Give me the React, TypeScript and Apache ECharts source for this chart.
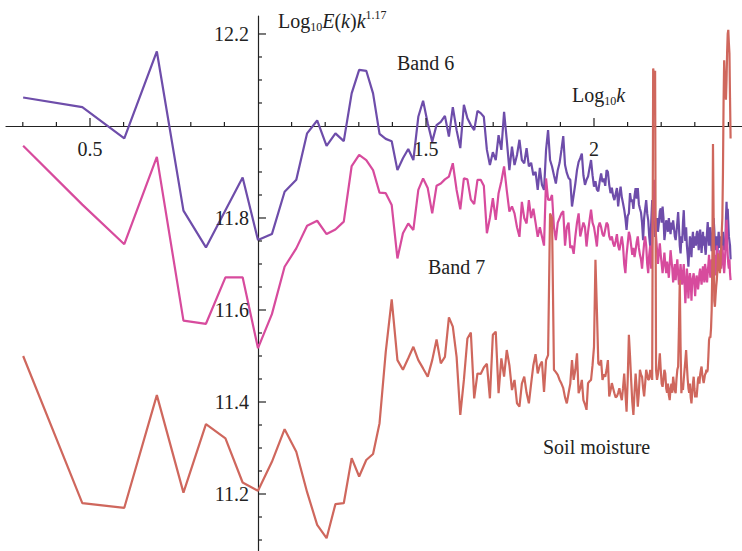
import React, { useEffect, useRef } from "react";
import * as echarts from "echarts";

// Wavenumber index k starts at 2; x = log10(k)
const K_START = 2;

// Log10 E(k) k^1.17 for k = 2..255
const band6: number[] = [
  12.062, 12.041, 11.973, 12.162, 11.816, 11.736, 11.817, 11.888, 11.752, 11.765,
  11.857, 11.883, 11.984, 12.012, 11.957, 11.984, 11.967, 12.071, 12.122, 12.120,
  12.071, 11.983, 11.972, 11.967, 11.904, 11.930, 11.950, 11.926, 12.020, 12.055,
  12.006, 11.966, 12.002, 12.009, 12.022, 11.977, 12.041, 11.991, 11.952, 12.046,
  12.017, 12.002, 11.991, 12.033, 12.028, 12.020, 11.948, 11.915, 11.943, 11.926,
  11.980, 11.948, 12.031, 11.970, 11.904, 11.955, 11.915, 11.937, 11.970, 11.926,
  11.919, 11.952, 11.912, 11.920, 11.893, 11.900, 11.861, 11.909, 11.872, 11.861,
  11.948, 11.991, 11.926, 11.912, 11.893, 11.875, 11.904, 11.920, 11.948, 11.978,
  11.915, 11.898, 11.887, 11.883, 11.825, 11.850, 11.875, 11.904, 11.922, 11.930,
  11.940, 11.893, 11.872, 11.883, 11.890, 11.909, 11.926, 11.893, 11.868, 11.880,
  11.862, 11.858, 11.880, 11.897, 11.878, 11.886, 11.870, 11.904, 11.900, 11.872,
  11.854, 11.866, 11.848, 11.839, 11.852, 11.865, 11.825, 11.850, 11.868, 11.845,
  11.832, 11.818, 11.800, 11.774, 11.805, 11.810, 11.854, 11.835, 11.840, 11.820,
  11.848, 11.865, 11.842, 11.865, 11.830, 11.820, 11.812, 11.790, 11.752, 11.800,
  11.820, 11.839, 11.810, 11.795, 11.760, 11.738, 11.790, 11.839, 11.800, 11.790,
  11.759, 11.780, 11.800, 11.770, 11.790, 11.815, 11.821, 11.790, 11.825, 11.800,
  11.752, 11.770, 11.795, 11.789, 11.770, 11.800, 11.780, 11.765, 11.790, 11.775,
  11.795, 11.778, 11.760, 11.752, 11.770, 11.790, 11.813, 11.780, 11.740, 11.723,
  11.760, 11.746, 11.790, 11.817, 11.770, 11.750, 11.780, 11.740, 11.720, 11.694,
  11.730, 11.760, 11.740, 11.715, 11.752, 11.770, 11.735, 11.760, 11.752, 11.740,
  11.765, 11.772, 11.750, 11.730, 11.760, 11.775, 11.745, 11.724, 11.750, 11.770,
  11.740, 11.760, 11.735, 11.720, 11.745, 11.770, 11.791, 11.760, 11.740, 11.765,
  11.780, 11.750, 11.728, 11.752, 11.770, 11.800, 11.775, 11.745, 11.730, 11.760,
  11.745, 11.720, 11.750, 11.770, 11.745, 11.735, 11.760, 11.740, 11.720, 11.750,
  11.770, 11.740, 11.730, 11.755, 11.735, 11.800, 11.835, 11.800, 11.820, 11.790,
  11.760, 11.760, 11.740, 11.710,
];

const band7: number[] = [
  11.957, 11.829, 11.743, 11.933, 11.577, 11.570, 11.671, 11.671, 11.517, 11.591,
  11.694, 11.734, 11.783, 11.794, 11.765, 11.775, 11.792, 11.913, 11.937, 11.926,
  11.904, 11.855, 11.854, 11.828, 11.712, 11.767, 11.788, 11.774, 11.861, 11.886,
  11.865, 11.810, 11.870, 11.875, 11.884, 11.890, 11.919, 11.861, 11.819, 11.886,
  11.884, 11.840, 11.830, 11.883, 11.883, 11.870, 11.767, 11.800, 11.843, 11.796,
  11.854, 11.880, 11.912, 11.860, 11.814, 11.825, 11.810, 11.780, 11.759, 11.835,
  11.800, 11.788, 11.839, 11.800, 11.820, 11.790, 11.759, 11.780, 11.760, 11.740,
  11.886, 11.840, 11.839, 11.850, 11.780, 11.752, 11.790, 11.800, 11.810, 11.815,
  11.740, 11.780, 11.790, 11.735, 11.740, 11.722, 11.760, 11.790, 11.810, 11.760,
  11.775, 11.790, 11.780, 11.738, 11.770, 11.795, 11.818, 11.790, 11.780, 11.760,
  11.738, 11.780, 11.790, 11.780, 11.765, 11.760, 11.775, 11.790, 11.785, 11.760,
  11.752, 11.760, 11.745, 11.738, 11.750, 11.765, 11.740, 11.730, 11.745, 11.760,
  11.740, 11.700, 11.680, 11.720, 11.745, 11.770, 11.760, 11.740, 11.720, 11.735,
  11.715, 11.730, 11.748, 11.760, 11.735, 11.720, 11.710, 11.690, 11.720, 11.745,
  11.760, 11.740, 11.700, 11.680, 11.720, 11.740, 11.690, 11.750, 11.840, 11.883,
  11.800, 11.760, 11.730, 11.700, 11.725, 11.745, 11.720, 11.700, 11.680, 11.700,
  11.725, 11.700, 11.680, 11.705, 11.690, 11.670, 11.700, 11.730, 11.710, 11.690,
  11.660, 11.680, 11.700, 11.665, 11.690, 11.710, 11.680, 11.655, 11.675, 11.700,
  11.672, 11.655, 11.680, 11.700, 11.660, 11.615, 11.650, 11.690, 11.665, 11.625,
  11.660, 11.680, 11.665, 11.620, 11.660, 11.670, 11.680, 11.655, 11.630, 11.660,
  11.675, 11.665, 11.645, 11.660, 11.680, 11.690, 11.670, 11.655, 11.675, 11.695,
  11.680, 11.660, 11.700, 11.690, 11.670, 11.660, 11.680, 11.700, 11.720, 11.690,
  11.670, 11.695, 11.710, 11.680, 11.660, 11.690, 11.720, 11.700, 11.675, 11.700,
  11.740, 11.710, 11.690, 11.720, 11.700, 11.730, 11.715, 11.690, 11.710, 11.740,
  11.720, 11.700, 11.680, 11.700, 11.730, 11.770, 11.796, 11.760, 11.720, 11.700,
  11.690, 11.710, 11.680, 11.665,
];

const soilMoisture: number[] = [
  11.500, 11.180, 11.170, 11.415, 11.203, 11.352, 11.321, 11.225, 11.207, 11.270,
  11.341, 11.292, 11.204, 11.133, 11.104, 11.178, 11.180, 11.278, 11.238, 11.274,
  11.287, 11.354, 11.509, 11.623, 11.491, 11.470, 11.495, 11.520, 11.491, 11.473,
  11.455, 11.491, 11.536, 11.484, 11.498, 11.584, 11.564, 11.498, 11.372, 11.448,
  11.538, 11.551, 11.408, 11.462, 11.461, 11.475, 11.483, 11.408, 11.546, 11.553,
  11.419, 11.495, 11.455, 11.513, 11.480, 11.426, 11.448, 11.397, 11.390, 11.440,
  11.455, 11.420, 11.397, 11.440, 11.480, 11.504, 11.462, 11.480, 11.488, 11.422,
  11.491, 11.502, 11.810, 11.800, 11.470, 11.465, 11.459, 11.448, 11.440, 11.430,
  11.410, 11.397, 11.419, 11.440, 11.491, 11.448, 11.470, 11.506, 11.419, 11.430,
  11.448, 11.404, 11.395, 11.383, 11.441, 11.445, 11.448, 11.480, 11.520, 11.709,
  11.600, 11.484, 11.480, 11.491, 11.448, 11.460, 11.455, 11.470, 11.491, 11.412,
  11.425, 11.441, 11.430, 11.419, 11.410, 11.412, 11.420, 11.430, 11.415, 11.404,
  11.430, 11.462, 11.420, 11.379, 11.450, 11.546, 11.500, 11.448, 11.400, 11.372,
  11.420, 11.462, 11.430, 11.390, 11.420, 11.470, 11.460, 11.455, 11.430, 11.412,
  11.440, 11.470, 11.460, 11.448, 11.450, 11.470, 11.460, 11.448, 12.125, 12.110,
  12.120, 11.470, 11.448, 11.460, 11.480, 11.506, 11.470, 11.440, 11.433, 11.450,
  11.470, 11.462, 11.430, 11.420, 11.440, 11.415, 11.404, 11.430, 11.440, 11.420,
  11.455, 11.440, 11.425, 11.419, 11.450, 11.470, 11.477, 11.560, 11.665, 11.520,
  11.419, 11.440, 11.426, 11.450, 11.470, 11.490, 11.513, 11.480, 11.450, 11.430,
  11.420, 11.440, 11.410, 11.397, 11.420, 11.440, 11.455, 11.430, 11.410, 11.420,
  11.410, 11.430, 11.450, 11.455, 11.440, 11.460, 11.470, 11.477, 11.460, 11.450,
  11.441, 11.450, 11.460, 11.462, 11.470, 11.465, 11.470, 11.500, 11.535, 11.542,
  11.540, 11.560, 11.600, 11.700, 11.961, 11.800, 11.620, 11.607, 11.630, 11.650,
  11.665, 11.690, 11.723, 11.700, 11.690, 11.680, 11.700, 11.730, 11.770, 11.800,
  11.900, 12.050, 12.143, 12.100, 12.080, 12.057, 12.100, 12.160, 12.200, 12.209,
  12.180, 12.158, 12.060, 11.973,
];

// Axes cross at (1, 12)
const X_ORIGIN = 1;
const Y_ORIGIN = 12;
const X_MIN = 0.25;
const X_MAX = 2.44;
const Y_MIN = 11.0761;
const Y_MAX = 12.2391;

const xMajorTicks = [0.5, 1.5, 2];
const xMajorLabels = ["0.5", "1.5", "2"];
const xMinorTicks = [
  0.3, 0.4, 0.6, 0.7, 0.8, 0.9, 1.1, 1.2, 1.3, 1.4, 1.6, 1.7, 1.8, 1.9, 2.1, 2.2, 2.3,
  2.4,
];
const yMajorTicks = [11.2, 11.4, 11.6, 11.8, 12.2];
const yMajorLabels = ["11.2", "11.4", "11.6", "11.8", "12.2"];
const yMinorTicks = [
  11.1, 11.15, 11.25, 11.3, 11.35, 11.45, 11.5, 11.55, 11.65, 11.7, 11.75, 11.85, 11.9,
  11.95, 12.05, 12.1, 12.15,
];

const COLORS = { band6: "#6E4DAA", band7: "#D74B9D", soil: "#CF675D" };
const FONT = "'Liberation Serif', 'DejaVu Serif', serif";
const INK = "#222222";
const MINOR_LEN = 4;
const MAJOR_LEN = 8;

function toPoints(vals: number[]): number[][] {
  return vals.map((v, i) => [Math.log10(K_START + i) - X_ORIGIN, v - Y_ORIGIN]);
}

export default function App() {
  const ref = useRef<HTMLDivElement>(null);

  useEffect(() => {
    if (!ref.current) return;
    const chart = echarts.init(ref.current, null, { renderer: "svg" });

    const axisLineStyle = { color: INK, width: 1.2 };
    const tickStyle = { stroke: INK, lineWidth: 1.2 };

    // x ticks + labels drawn through the axes' scales, on the y = 12 line
    const xTicks = {
      type: "custom",
      silent: true,
      clip: false,
      z: 10,
      data: [
        ...xMinorTicks.map((t) => [t - X_ORIGIN, 0, -1]),
        ...xMajorTicks.map((t, i) => [t - X_ORIGIN, 0, i]),
      ],
      renderItem: (_p: any, api: any) => {
        const c = api.coord([api.value(0), 0]);
        const li = api.value(2);
        const major = li >= 0;
        const len = major ? MAJOR_LEN : MINOR_LEN;
        const children: any[] = [
          {
            type: "line",
            shape: { x1: c[0], y1: c[1], x2: c[0], y2: c[1] - len },
            style: tickStyle,
          },
        ];
        if (major) {
          children.push({
            type: "text",
            x: c[0],
            y: c[1] + 13,
            style: {
              text: xMajorLabels[li],
              fill: INK,
              font: `20px ${FONT}`,
              align: "center",
              verticalAlign: "top",
              textAlign: "center",
              textVerticalAlign: "top",
            },
          });
        }
        return { type: "group", children };
      },
    };

    // y ticks + labels on the x = 1 line
    const yTicks = {
      type: "custom",
      silent: true,
      clip: false,
      z: 10,
      data: [
        ...yMinorTicks.map((t) => [0, t - Y_ORIGIN, -1]),
        ...yMajorTicks.map((t, i) => [0, t - Y_ORIGIN, i]),
      ],
      renderItem: (_p: any, api: any) => {
        const c = api.coord([0, api.value(1)]);
        const li = api.value(2);
        const major = li >= 0;
        const len = major ? MAJOR_LEN : MINOR_LEN;
        const children: any[] = [
          {
            type: "line",
            shape: { x1: c[0], y1: c[1], x2: c[0] + len, y2: c[1] },
            style: tickStyle,
          },
        ];
        if (major) {
          children.push({
            type: "text",
            x: c[0] - 9,
            y: c[1],
            style: {
              text: yMajorLabels[li],
              fill: INK,
              font: `20px ${FONT}`,
              align: "right",
              verticalAlign: "middle",
              textAlign: "right",
              textVerticalAlign: "middle",
            },
          });
        }
        return { type: "group", children };
      },
    };

    const option: any = {
      animation: false,
      backgroundColor: "#ffffff",
      grid: {
        left: 6,
        right: 0.16,
        top: 16,
        bottom: 0,
        containLabel: false,
        outerBoundsMode: "none",
      },
      xAxis: {
        type: "value",
        min: X_MIN - X_ORIGIN,
        max: X_MAX - X_ORIGIN,
        splitLine: { show: false },
        axisLine: { onZero: true, lineStyle: axisLineStyle },
        axisTick: { show: false },
        axisLabel: { show: false },
      },
      yAxis: {
        type: "value",
        min: Y_MIN - Y_ORIGIN,
        max: Y_MAX - Y_ORIGIN,
        splitLine: { show: false },
        axisLine: { onZero: true, lineStyle: axisLineStyle },
        axisTick: { show: false },
        axisLabel: { show: false },
      },
      series: [
        {
          name: "Band 6",
          type: "line",
          data: toPoints(band6),
          showSymbol: false,
          symbol: "none",
          lineStyle: { color: COLORS.band6, width: 2.2 },
          itemStyle: { color: COLORS.band6 },
          z: 2,
        },
        {
          name: "Band 7",
          type: "line",
          data: toPoints(band7),
          showSymbol: false,
          symbol: "none",
          lineStyle: { color: COLORS.band7, width: 2.2 },
          itemStyle: { color: COLORS.band7 },
          z: 3,
        },
        {
          name: "Soil moisture",
          type: "line",
          data: toPoints(soilMoisture),
          showSymbol: false,
          symbol: "none",
          lineStyle: { color: COLORS.soil, width: 2.2 },
          itemStyle: { color: COLORS.soil },
          z: 4,
        },
        xTicks,
        yTicks,
      ],
      graphic: [
        {
          type: "text",
          left: 278,
          top: 9,
          style: {
            text: "{n|Log}{s|10}{i|E}{n|(}{i|k}{n|)}{i|k}{p|1.17}",
            fill: INK,
            rich: {
              n: { fontFamily: FONT, fontSize: 20, lineHeight: 24, fill: INK },
              i: { fontFamily: FONT, fontSize: 20, lineHeight: 24, fontStyle: "italic", fill: INK },
              s: { fontFamily: FONT, fontSize: 12, lineHeight: 12, verticalAlign: "bottom", fill: INK },
              p: { fontFamily: FONT, fontSize: 12, lineHeight: 12, verticalAlign: "top", fill: INK },
            },
          },
        },
        {
          type: "text",
          left: 572,
          top: 85,
          style: {
            text: "{n|Log}{s|10}{i|k}",
            fill: INK,
            rich: {
              n: { fontFamily: FONT, fontSize: 20, lineHeight: 24, fill: INK },
              i: { fontFamily: FONT, fontSize: 20, lineHeight: 24, fontStyle: "italic", fill: INK },
              s: { fontFamily: FONT, fontSize: 12, lineHeight: 12, verticalAlign: "bottom", fill: INK },
            },
          },
        },
        {
          type: "text",
          left: 397,
          top: 53,
          style: { text: "Band 6", font: `20px ${FONT}`, fill: INK },
        },
        {
          type: "text",
          left: 428,
          top: 257,
          style: { text: "Band 7", font: `20px ${FONT}`, fill: INK },
        },
        {
          type: "text",
          left: 543,
          top: 437,
          style: { text: "Soil moisture", font: `20px ${FONT}`, fill: INK },
        },
      ],
    };

    chart.setOption(option);
    return () => chart.dispose();
  }, []);

  return (
    <div
      ref={ref}
      style={{ position: "fixed", left: 0, top: 0, width: 742, height: 551, background: "#fff" }}
    />
  );
}
